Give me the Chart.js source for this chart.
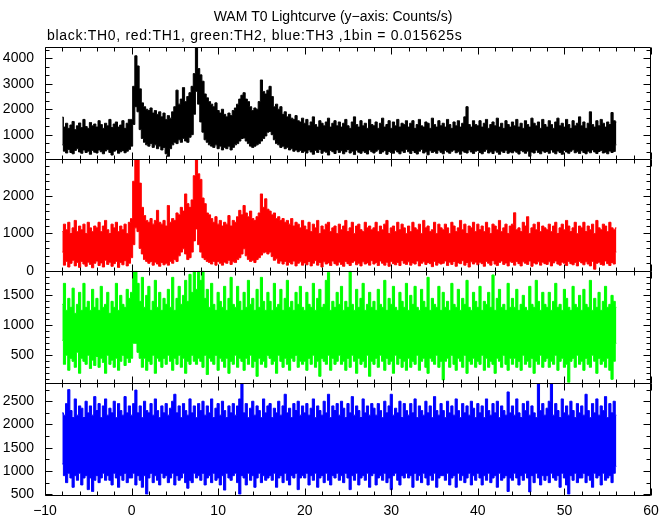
<!DOCTYPE html>
<html>
<head>
<meta charset="utf-8">
<script src="https://cdn.jsdelivr.net/npm/chart.js@4.4.1/dist/chart.umd.min.js"></script>
<style>
  html, body { margin: 0; padding: 0; background: #fff; }
  #wrap { width: 672px; height: 515px; }
</style>
</head>
<body>
<div id="wrap"><canvas id="lc" width="672" height="515"></canvas></div>
<script>
// time axis: envelope read every 0.25 s from -8 s to 56 s (16 values = 4 s per row)
const T_START = -8;
const T_STEP = 0.25;

// TH0 (black) upper / lower envelope, counts/s
const th0Hi = [
  1690, 1300, 1450, 1250, 1380, 1520, 1200, 1350, 1460, 1280, 1600, 1320, 1250, 1480, 1350, 1420,
  1300, 1550, 1400, 1250, 1450, 1350, 1600, 1280, 1420, 1500, 1300, 1380, 1550, 1250, 1450, 1600,
  1600, 2900, 4100, 3700, 2800, 2250, 2100, 2000, 1950, 2050, 1850, 1950, 1800, 1900, 1700, 1850,
  1600, 1750, 1650, 1900, 2100, 2750, 2200, 2400, 2850, 2300, 2500, 2650, 2900, 3400, 4445, 3600,
  3350, 3100, 2600, 2450, 2300, 2200, 2100, 2250, 1950, 1850, 2000, 1800, 1700, 1850, 1750, 1950,
  2050, 2200, 2400, 2550, 2650, 2400, 2300, 2100, 1950, 2050, 2000, 2300, 3150, 2700, 2600, 2750,
  2900, 2500, 2100, 2200, 2000, 2100, 1800, 1900, 1700, 1800, 1650, 1600, 1750, 1550, 1500, 1650,
  1450, 1600, 1350, 1500, 1700, 1400, 1300, 1550, 1450, 1350, 1500, 1650, 1300, 1450, 1550, 1350,
  1500, 1300, 1450, 1600, 1350, 1250, 1500, 1700, 1400, 1300, 1550, 1350, 1450, 1250, 1600, 1400,
  1350, 1500, 1250, 1450, 1650, 1300, 1400, 1550, 1250, 1500, 1350, 1600, 1300, 1450, 1400, 1550,
  1300, 1450, 1550, 1250, 1400, 1600, 1350, 1300, 1500, 1450, 1250, 1650, 1400, 1300, 1550, 1350,
  1450, 1300, 1600, 1400, 1250, 1500, 1350, 1550, 1300, 1450, 1700, 2100, 1400, 1300, 1550, 1400,
  1350, 1550, 1300, 1450, 1600, 1250, 1400, 1500, 1350, 1650, 1300, 1450, 1250, 1550, 1400, 1300,
  1500, 1350, 1600, 1300, 1450, 1250, 1550, 1400, 1300, 1650, 1450, 1350, 1500, 1250, 1600, 1400,
  1300, 1550, 1400, 1250, 1500, 1650, 1350, 1450, 1300, 1600, 1400, 1250, 1550, 1350, 1450, 1700,
  1350, 1500, 1250, 1450, 1900, 1400, 1300, 1550, 1350, 1600, 1450, 1300, 1500, 1400, 1870, 1550,
  1500
];
const th0Lo = [
  600, 350, 280, 420, 300, 250, 380, 450, 320, 270, 400, 300, 350, 230, 380, 310,
  280, 400, 330, 250, 360, 420, 300, 200, 350, 400, 270, 330, 380, 290, 350, 420,
  550, 1400, 2100, 1900, 1200, 850, 700, 600, 550, 650, 500, 600, 450, 550, 400, 500,
  250, 150, 450, 600, 700, 650, 800, 700, 850, 750, 700, 900, 1000, 1800, 2700, 2200,
  1500, 1100, 800, 700, 600, 550, 500, 600, 450, 550, 400, 500, 450, 550, 400, 500,
  600, 650, 750, 850, 870, 750, 650, 550, 500, 550, 600, 650, 750, 850, 950, 1100,
  1130, 1000, 800, 650, 600, 500, 550, 450, 500, 400, 450, 350, 400, 330, 380, 300,
  350, 280, 400, 320, 230, 380, 300, 420, 270, 350, 310, 200, 380, 330, 260, 400,
  300, 370, 250, 330, 420, 280, 350, 220, 390, 310, 270, 360, 300, 240, 400, 330,
  280, 350, 410, 260, 320, 380, 230, 340, 300, 270, 390, 320, 250, 360, 300, 420,
  330, 260, 380, 300, 240, 350, 420, 280, 330, 210, 370, 300, 340, 270, 390, 310,
  250, 380, 320, 270, 350, 400, 290, 330, 230, 360, 310, 280, 400, 320, 260, 350,
  380, 300, 250, 340, 410, 280, 330, 260, 370, 310, 230, 350, 300, 390, 270, 320,
  290, 360, 310, 240, 380, 330, 270, 350, 150, 320, 280, 390, 300, 250, 360, 310,
  340, 270, 400, 310, 250, 360, 300, 230, 380, 320, 270, 350, 410, 290, 330, 260,
  370, 300, 250, 350, 290, 400, 320, 260, 340, 380, 280, 310, 250, 360, 300, 340,
  600
];

// TH1 (red)
const th1Hi = [
  1050, 1250, 1100, 1300, 1000, 1150, 1350, 1050, 1200, 1100, 1250, 1000, 1300, 1150, 1050, 1200,
  1150, 1300, 1050, 1200, 1350, 1100, 1000, 1250, 1150, 1300, 1050, 1200, 1100, 1250, 1000, 1300,
  1400, 2400, 3000, 3000, 2350, 1700, 1480, 1350, 1300, 1400, 1250, 1350, 1620, 1300, 1250, 1350,
  1200, 1750, 1300, 1400, 1350, 1550, 1500, 1700, 1600, 2060, 1800, 1700, 1900, 2550, 3000, 2600,
  2450, 1950, 1800, 1550, 1500, 1400, 1300, 1450, 1250, 1350, 1200, 1300, 1250, 1480, 1200, 1350,
  1300, 1450, 1620, 1500, 1750, 1550, 1450, 1600, 1400, 1350, 1450, 1550, 2060, 1700, 1930, 1650,
  1600, 1500, 1550, 1400, 1450, 1350, 1400, 1300, 1350, 1250, 1400, 1200, 1300, 1250, 1150, 1350,
  1200, 1100, 1300, 1050, 1250, 1150, 1350, 1000, 1200, 1100, 1250, 1300, 1050, 1150, 1200, 1000,
  1250, 1100, 1200, 1350, 1050, 1150, 1300, 1000, 1200, 1250, 1100, 1050, 1300, 1150, 1200, 1100,
  1150, 1300, 1050, 1200, 1100, 1250, 1350, 1000, 1150, 1200, 1050, 1300, 1100, 1250, 1150, 1000,
  1200, 1050, 1300, 1150, 1100, 1250, 1000, 1350, 1150, 1200, 1050, 1100, 1300, 1000, 1250, 1150,
  1100, 1250, 1150, 1000, 1300, 1200, 1050, 1150, 1350, 1100, 1250, 1000, 1200, 1150, 1300, 1050,
  1250, 1100, 1200, 1050, 1300, 1150, 1000, 1250, 1200, 1100, 1350, 1050, 1150, 1250, 1000, 1200,
  1250, 1555, 1100, 1150, 1050, 1300, 1200, 1450, 1000, 1150, 1250, 1100, 1300, 1050, 1200, 1150,
  1100, 1250, 1050, 1200, 1300, 1000, 1150, 1250, 1100, 1350, 1200, 1050, 1150, 1300, 1000, 1200,
  1150, 1300, 1050, 1200, 1100, 1250, 1000, 1350, 1150, 1100, 1250, 1200, 1050, 1300, 1150, 1100,
  1150
];
const th1Lo = [
  500, 150, 250, 100, 200, 280, 130, 220, 90, 250, 180, 120, 230, 170, 80, 200,
  260, 140, 210, 100, 280, 170, 230, 120, 190, 250, 90, 220, 160, 270, 130, 200,
  350, 700, 1150, 1050, 600, 450, 300, 250, 200, 250, 150, 230, 180, 120, 220, 160,
  200, 150, 250, 200, 300, 250, 400, 500, 590, 450, 300, 350, 500, 800, 1120, 700,
  500, 350, 300, 250, 220, 180, 250, 150, 250, 200, 150, 230, 200, 280, 170, 240,
  220, 300, 350, 450, 590, 400, 300, 250, 280, 220, 300, 350, 420, 480, 500, 450,
  500, 380, 280, 320, 200, 260, 180, 250, 150, 220, 180, 260, 130, 200, 240, 150,
  210, 160, 250, 130, 200, 270, 150, 220, 100, 240, 180, 210, 140, 260, 190, 150,
  230, 170, 120, 250, 190, 140, 220, 260, 160, 200, 130, 240, 180, 210, 150, 270,
  180, 220, 140, 260, 200, 150, 230, 120, 250, 190, 160, 220, 140, 270, 200, 170,
  240, 150, 210, 180, 260, 130, 200, 240, 170, 220, 190, 110, 250, 150, 210, 180,
  200, 260, 140, 230, 170, 250, 120, 210, 190, 270, 150, 220, 100, 240, 180, 230,
  160, 230, 190, 120, 250, 200, 150, 270, 180, 140, 220, 260, 170, 210, 130, 240,
  220, 150, 250, 190, 130, 240, 200, 170, 260, 120, 210, 180, 240, 150, 230, 190,
  170, 240, 130, 210, 260, 180, 150, 230, 200, 140, 250, 190, 160, 220, 130, 250,
  210, 160, 240, 180, 130, 250, 40, 200, 230, 170, 150, 260, 190, 140, 220, 180,
  500
];

// TH2 (green)
const th2Hi = [
  1350, 1700, 1250, 1450, 1300, 1620, 1200, 1350, 1550, 1250, 1700, 1300, 1400, 1250, 1600, 1300,
  1450, 1250, 1650, 1300, 1350, 1550, 1200, 1400, 1300, 1700, 1250, 1500, 1350, 1300, 1600, 1450,
  1550, 1905, 1905, 1700, 1400, 1800, 1300, 1500, 1650, 1250, 1400, 1750, 1300, 1550, 1250, 1450,
  1350, 1600, 1300, 1800, 1250, 1450, 1650, 1350, 1500, 1750, 1400, 1850, 1550, 1905, 1600, 1905,
  1750, 1905, 1450, 1600, 1300, 1700, 1350, 1250, 1550, 1400, 1300, 1650, 1250, 1450, 1800, 1350,
  1300, 1650, 1400, 1250, 1550, 1300, 1750, 1350, 1450, 1250, 1600, 1300, 1800, 1400, 1250, 1550,
  1400, 1250, 1700, 1300, 1350, 1600, 1250, 1450, 1750, 1300, 1400, 1250, 1550, 1350, 1650, 1300,
  1250, 1550, 1350, 1300, 1700, 1250, 1450, 1600, 1300, 1350, 1750, 1880, 1250, 1400, 1300, 1550,
  1350, 1650, 1250, 1400, 1300, 1905, 1350, 1250, 1600, 1300, 1450, 1700, 1250, 1350, 1550, 1300,
  1400, 1250, 1600, 1350, 1300, 1750, 1250, 1450, 1350, 1650, 1300, 1250, 1550, 1400, 1300, 1700,
  1250, 1500, 1350, 1650, 1300, 1250, 1600, 1400, 1300, 1800, 1250, 1450, 1350, 1300, 1650, 1250,
  1550, 1300, 1400, 1250, 1700, 1350, 1300, 1600, 1250, 1450, 1350, 1750, 1300, 1250, 1550, 1400,
  1300, 1650, 1250, 1400, 1350, 1550, 1300, 1840, 1250, 1450, 1600, 1300, 1350, 1250, 1700, 1300,
  1450, 1300, 1600, 1250, 1350, 1500, 1300, 1250, 1650, 1350, 1300, 1750, 1400, 1250, 1550, 1350,
  1300, 1550, 1250, 1400, 1700, 1300, 1350, 1250, 1600, 1450, 1300, 1250, 1650, 1350, 1300, 1500,
  1250, 1600, 1350, 1300, 1750, 1250, 1450, 1300, 1550, 1250, 1400, 1650, 1300, 1350, 1500, 1400,
  1300
];
const th2Lo = [
  750, 350, 500, 250, 450, 400, 300, 550, 200, 450, 400, 350, 500, 280, 420, 330,
  480, 300, 450, 380, 200, 500, 350, 420, 300, 450, 250, 400, 500, 330, 450, 380,
  450, 700, 700, 550, 450, 300, 450, 250, 400, 350, 500, 200, 450, 400, 300, 450,
  350, 500, 400, 250, 450, 350, 500, 300, 450, 200, 400, 350, 500, 400, 350, 450,
  400, 300, 500, 180, 450, 400, 350, 500, 250, 450, 400, 300, 450, 200, 400, 350,
  500, 300, 450, 400, 250, 450, 350, 500, 300, 400, 150, 450, 350, 400, 300, 500,
  450, 350, 400, 200, 500, 400, 300, 450, 350, 250, 450, 400, 500, 300, 400, 350,
  400, 250, 450, 350, 500, 300, 400, 150, 450, 400, 350, 500, 250, 450, 350, 400,
  500, 350, 400, 250, 450, 300, 500, 400, 200, 450, 350, 400, 300, 500, 150, 400,
  350, 450, 300, 500, 400, 250, 450, 350, 400, 200, 500, 350, 450, 300, 400, 250,
  450, 300, 400, 350, 500, 250, 400, 450, 300, 200, 450, 400, 350, 500, 300, 400,
  90, 400, 450, 300, 500, 350, 250, 450, 400, 300, 500, 200, 400, 350, 450, 300,
  400, 350, 500, 250, 450, 300, 400, 350, 200, 450, 400, 300, 500, 350, 250, 450,
  350, 450, 300, 400, 250, 500, 350, 400, 300, 450, 200, 400, 350, 500, 300, 400,
  450, 300, 400, 350, 500, 250, 400, 450, 300, 350, 50, 400, 450, 300, 500, 350,
  400, 250, 450, 350, 300, 500, 400, 200, 450, 350, 400, 300, 450, 250, 100, 400,
  700
];

// TH3 (blue)
const th3Hi = [
  2250, 2200, 2450, 2750, 2300, 2150, 2550, 2200, 2400, 2350, 2150, 2500, 2250, 2400, 2200, 2600,
  2300, 2450, 2150, 2400, 2550, 2200, 2350, 2250, 2500, 2150, 2450, 2300, 2200, 2600, 2250, 2400,
  2200, 2450, 2740, 2250, 2400, 2150, 2500, 2300, 2250, 2450, 2200, 2550, 2300, 2150, 2400, 2250,
  2450, 2200, 2350, 2500, 2650, 2250, 2400, 2150, 2450, 2300, 2200, 2550, 2250, 2400, 2150, 2450,
  2300, 2500, 2200, 2400, 2250, 2550, 2150, 2350, 2450, 2200, 2500, 2300, 2150, 2400, 2250, 2450,
  2200, 2400, 2550, 2880, 2250, 2450, 2150, 2350, 2500, 2200, 2400, 2300, 2150, 2550, 2250, 2400,
  2450, 2150, 2350, 2250, 2500, 2200, 2400, 2650, 2250, 2350, 2150, 2450, 2300, 2500, 2200, 2400,
  2250, 2450, 2200, 2350, 2550, 2150, 2400, 2300, 2200, 2500, 2250, 2650, 2150, 2400, 2300, 2450,
  2200, 2500, 2350, 2150, 2450, 2250, 2600, 2200, 2400, 2300, 2150, 2550, 2250, 2400, 2200, 2450,
  2350, 2200, 2450, 2300, 2150, 2500, 2250, 2400, 2650, 2200, 2350, 2250, 2500, 2150, 2450, 2300,
  2200, 2450, 2250, 2550, 2150, 2400, 2300, 2200, 2500, 2250, 2400, 2150, 2600, 2300, 2200, 2450,
  2300, 2150, 2500, 2250, 2400, 2200, 2550, 2300, 2150, 2450, 2250, 2400, 2200, 2500, 2350, 2150,
  2450, 2250, 2400, 2150, 2550, 2300, 2200, 2450, 2250, 2500, 2150, 2400, 2300, 2200, 2700, 2250,
  2400, 2200, 2550, 2250, 2150, 2450, 2300, 2500, 2200, 2400, 2250, 2150, 2880, 2300, 2450, 2200,
  2350, 2500, 2880, 2200, 2450, 2300, 2150, 2550, 2250, 2400, 2200, 2500, 2300, 2150, 2450, 2250,
  2400, 2200, 2650, 2300, 2150, 2450, 2250, 2550, 2200, 2400, 2300, 2600, 2150, 2450, 2250, 2500,
  2200
];
const th3Lo = [
  1150, 900, 750, 950, 850, 650, 900, 800, 950, 700, 850, 900, 600, 850, 560, 800,
  900, 750, 850, 950, 800, 900, 800, 700, 950, 850, 650, 900, 800, 950, 750, 850,
  850, 950, 700, 900, 800, 650, 900, 500, 850, 950, 750, 900, 800, 700, 950, 850,
  900, 750, 850, 950, 700, 900, 800, 850, 950, 750, 630, 800, 750, 950, 850, 900,
  800, 950, 700, 850, 900, 750, 950, 800, 850, 700, 900, 590, 950, 850, 800, 900,
  950, 750, 500, 900, 850, 700, 950, 800, 900, 650, 850, 950, 750, 900, 800, 850,
  900, 800, 950, 650, 850, 900, 750, 950, 800, 700, 900, 850, 950, 600, 850, 900,
  850, 950, 700, 900, 800, 950, 650, 850, 900, 750, 950, 800, 700, 900, 850, 950,
  800, 900, 750, 950, 850, 600, 900, 800, 950, 700, 850, 900, 800, 950, 650, 900,
  950, 700, 850, 900, 800, 950, 750, 850, 600, 900, 950, 800, 700, 900, 850, 950,
  850, 900, 650, 950, 800, 900, 750, 950, 850, 700, 900, 800, 950, 650, 850, 900,
  900, 800, 950, 700, 850, 900, 650, 950, 800, 900, 750, 850, 950, 700, 900, 800,
  950, 850, 700, 900, 800, 950, 750, 850, 900, 650, 950, 800, 850, 900, 560, 850,
  800, 950, 850, 700, 900, 800, 950, 850, 550, 900, 750, 950, 850, 700, 900, 800,
  900, 750, 950, 850, 800, 900, 650, 950, 850, 700, 500, 900, 800, 950, 750, 850,
  850, 950, 750, 900, 800, 650, 950, 850, 900, 700, 950, 800, 850, 900, 750, 950,
  1100
];

// tick labels
const X_TICKS = [-10, 0, 10, 20, 30, 40, 50, 60];
const TH0_TICKS = [1000, 2000, 3000, 4000];
const TH1_TICKS = [0, 1000, 2000, 3000];
const TH2_TICKS = [500, 1000, 1500];
const TH3_TICKS = [500, 1000, 1500, 2000, 2500];

const FONT = '"Liberation Sans", Arial, Helvetica, sans-serif';

const panels = [
  { id: 'y1', hi: th0Hi, lo: th0Lo, color: '#000000', min: 50, max: 4445, ticks: TH0_TICKS, major: 1000, sub: 3 },
  { id: 'y2', hi: th1Hi, lo: th1Lo, color: '#ff0000', min: 0, max: 3000, ticks: TH1_TICKS, major: 1000, sub: 5 },
  { id: 'y3', hi: th2Hi, lo: th2Lo, color: '#00ff00', min: 45, max: 1910, ticks: TH2_TICKS, major: 500, sub: 5 },
  { id: 'y4', hi: th3Hi, lo: th3Lo, color: '#0000ff', min: 495, max: 2900, ticks: TH3_TICKS, major: 500, sub: 2 }
];

const toPoints = arr => arr.map((v, i) => ({ x: T_START + i * T_STEP, y: v }));

const datasets = [];
panels.forEach(p => {
  const common = {
    yAxisID: p.id, borderColor: p.color, backgroundColor: p.color,
    borderWidth: 1, pointRadius: 0, stepped: 'middle'
  };
  datasets.push({ ...common, data: toPoints(p.hi), fill: '+1' });
  datasets.push({ ...common, data: toPoints(p.lo), fill: false });
});

const scales = {
  x: {
    type: 'linear', position: 'bottom', min: -10, max: 60,
    grid: { display: false }, border: { display: false },
    afterBuildTicks: s => { s.ticks = X_TICKS.map(v => ({ value: v })); },
    afterFit: s => { s.height = 20.5; },
    ticks: {
      autoSkip: false, maxRotation: 0, padding: 0, color: '#000', font: { family: FONT, size: 14 },
      callback: v => v < 0 ? '\u2212' + Math.abs(v) : String(v)
    }
  }
};
// bottom panel first: the last left-hand scale is stacked at the top
panels.slice().reverse().forEach(p => {
  scales[p.id] = {
    type: 'linear', position: 'left', stack: 'lc', stackWeight: 1,
    min: p.min, max: p.max,
    grid: { display: false }, border: { display: false },
    afterBuildTicks: s => { s.ticks = p.ticks.map(v => ({ value: v })); },
    afterFit: s => { s.width = 45; },
    ticks: {
      autoSkip: false, padding: 3, color: '#000', font: { family: FONT, size: 14 },
      callback: v => String(v)
    }
  };
});

// frames, inward ticks and the two title lines
const framePlugin = {
  id: 'frames',
  afterDraw(chart) {
    const { ctx, chartArea: ca } = chart;
    const xs = chart.scales.x;
    const L = Math.round(ca.left) + 0.5;
    const R = Math.round(ca.right) - 0.5;
    const seg = (x1, y1, x2, y2) => { ctx.moveTo(x1, y1); ctx.lineTo(x2, y2); };
    ctx.save();
    ctx.strokeStyle = '#000';
    ctx.lineWidth = 1;
    ctx.beginPath();
    panels.forEach(p => {
      const ys = chart.scales[p.id];
      const T = Math.round(ys.top) + 0.5;
      const B = Math.round(ys.bottom) + 0.5;
      ctx.rect(L, T, R - L, B - T);
      const step = p.major / p.sub;
      for (let k = Math.ceil(p.min / step); k * step <= p.max; k++) {
        const y = Math.round(ys.getPixelForValue(k * step)) + 0.5;
        const len = k % p.sub === 0 ? 7 : 4;
        seg(L, y, L + len, y);
        seg(R, y, R - len, y);
      }
      for (let t = -10; t <= 60; t += 2) {
        const x = Math.round(xs.getPixelForValue(t)) + 0.5;
        const len = t % 10 === 0 ? 7 : 4;
        seg(x, T, x, T + len);
        seg(x, B, x, B - len);
      }
    });
    ctx.stroke();
    ctx.fillStyle = '#000';
    ctx.font = '14px ' + FONT;
    ctx.textBaseline = 'alphabetic';
    ctx.textAlign = 'center';
    ctx.fillText('WAM T0 Lightcurve (y\u2212axis: Counts/s)', 333, 21);
    ctx.textAlign = 'left';
    ctx.letterSpacing = '0.7px';
    ctx.fillText('black:TH0, red:TH1, green:TH2, blue:TH3 ,1bin = 0.015625s', 47, 40);
    ctx.restore();
  }
};

new Chart(document.getElementById('lc').getContext('2d'), {
  type: 'line',
  data: { datasets },
  options: {
    responsive: false,
    animation: false,
    events: [],
    layout: { padding: { top: 47, right: 21, left: 0, bottom: 0 } },
    plugins: { legend: { display: false }, tooltip: { enabled: false }, title: { display: false } },
    scales
  },
  plugins: [framePlugin]
});
</script>
</body>
</html>
